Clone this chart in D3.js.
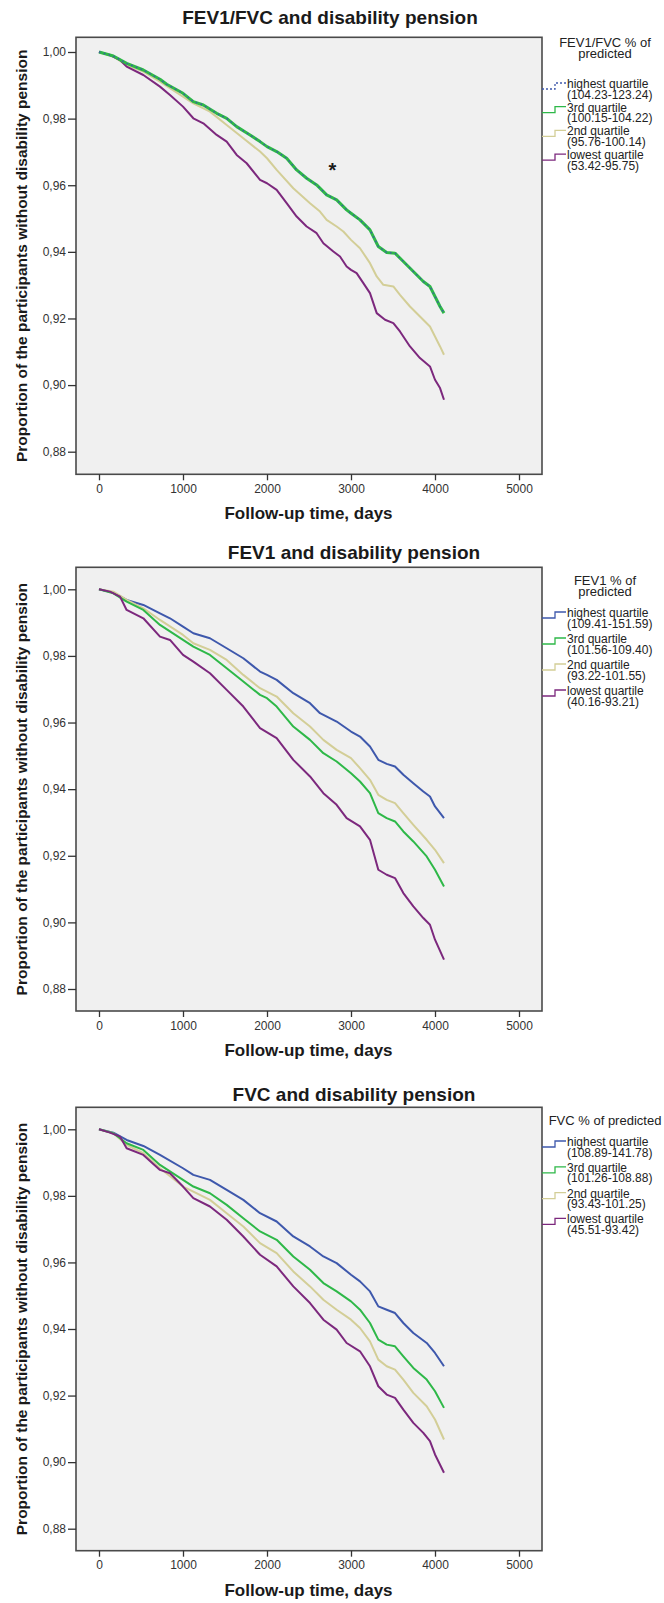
<!DOCTYPE html>
<html>
<head>
<meta charset="utf-8">
<script src="https://cdn.jsdelivr.net/npm/d3@7"></script>
<style>
  body { margin: 0; background: #fff; }
  svg  { display: block; font-family: Arial, "Liberation Sans", sans-serif; }
</style>
</head>
<body>
<div id="chart"></div>
<script>
// Kaplan-Meier curves: [follow-up day, proportion]
const X_TICKS = [0, 1000, 2000, 3000, 4000, 5000];
const Y_TICKS = [0.88, 0.90, 0.92, 0.94, 0.96, 0.98, 1.00];
const QUARTILES = ["highest quartile", "3rd quartile", "2nd quartile", "lowest quartile"];

// FEV1/FVC panel (highest and 3rd quartile lie on top of each other)
const RATIO_RANGES = ["(104.23-123.24)", "(100.15-104.22)", "(95.76-100.14)", "(53.42-95.75)"];
const RATIO_HIGH = [[0,1.000],[171,0.9988],[329,0.9966],[528,0.9946],[726,0.9918],[806,0.9903],[1000,0.9876],[1123,0.9851],[1242,0.9841],[1401,0.9816],[1520,0.9801],[1639,0.9776],[1798,0.9751],[1917,0.9731],[2000,0.9716],[2115,0.9701],[2234,0.9681],[2353,0.9646],[2472,0.9621],[2591,0.9601],[2710,0.9571],[2829,0.9556],[2948,0.9526],[3000,0.9516],[3107,0.9496],[3226,0.9466],[3325,0.9416],[3425,0.9398],[3524,0.9396],[3623,0.9371],[3742,0.9341],[3861,0.9311],[3940,0.9296],[4000,0.9266],[4060,0.9236],[4107,0.9216]];
const RATIO_Q3 = [[0,1.000],[171,0.9988],[329,0.9966],[528,0.9946],[726,0.9918],[806,0.9903],[1000,0.9876],[1123,0.9851],[1242,0.9841],[1401,0.9816],[1520,0.9801],[1639,0.9776],[1798,0.9751],[1917,0.9731],[2000,0.9716],[2115,0.9701],[2234,0.9681],[2353,0.9646],[2472,0.9621],[2591,0.9601],[2710,0.9571],[2829,0.9556],[2948,0.9526],[3000,0.9516],[3107,0.9496],[3226,0.9466],[3325,0.9416],[3425,0.9398],[3524,0.9396],[3623,0.9371],[3742,0.9341],[3861,0.9311],[3940,0.9296],[4000,0.9266],[4060,0.9236],[4107,0.9216]];
const RATIO_Q2 = [[0,1.000],[171,0.9986],[329,0.9961],[528,0.9941],[726,0.9911],[1000,0.9866],[1123,0.9846],[1321,0.9821],[1520,0.9781],[1718,0.9741],[1917,0.9701],[2000,0.9681],[2115,0.9646],[2313,0.9591],[2512,0.9546],[2631,0.9521],[2710,0.9496],[2829,0.9476],[2909,0.9461],[3000,0.9436],[3107,0.9411],[3226,0.9366],[3306,0.9326],[3385,0.9301],[3504,0.9296],[3583,0.9271],[3702,0.9236],[3821,0.9206],[3940,0.9176],[4000,0.9146],[4060,0.9116],[4107,0.9091]];
const RATIO_LOW = [[0,1.000],[131,0.9991],[250,0.9976],[329,0.9956],[528,0.9931],[726,0.9896],[845,0.9871],[1000,0.9836],[1123,0.9801],[1242,0.9786],[1401,0.9751],[1520,0.9731],[1639,0.9691],[1758,0.9666],[1917,0.9616],[2000,0.9606],[2115,0.9586],[2234,0.9546],[2353,0.9506],[2472,0.9476],[2591,0.9456],[2671,0.9426],[2790,0.9401],[2869,0.9386],[2948,0.9356],[3000,0.9346],[3067,0.9336],[3147,0.9306],[3226,0.9276],[3306,0.9216],[3405,0.9196],[3504,0.9186],[3583,0.9161],[3702,0.9116],[3821,0.9081],[3940,0.9056],[4000,0.9016],[4060,0.8991],[4107,0.8956]];

// FEV1 panel
const FEV1_RANGES = ["(109.41-151.59)", "(101.56-109.40)", "(93.22-101.55)", "(40.16-93.21)"];
const FEV1_HIGH = [[0,1.000],[171,0.9990],[329,0.9968],[528,0.9953],[726,0.9928],[845,0.9913],[1000,0.9888],[1123,0.9868],[1321,0.9853],[1520,0.9823],[1718,0.9793],[1917,0.9753],[2000,0.9743],[2115,0.9728],[2313,0.9688],[2512,0.9658],[2631,0.9628],[2829,0.9603],[3000,0.9573],[3107,0.9558],[3226,0.9528],[3325,0.9488],[3425,0.9476],[3524,0.9468],[3623,0.9443],[3742,0.9418],[3861,0.9393],[3940,0.9378],[4000,0.9348],[4107,0.9313]];
const FEV1_Q3 = [[0,1.000],[171,0.9988],[329,0.9963],[528,0.9938],[726,0.9893],[1000,0.9848],[1123,0.9828],[1321,0.9803],[1520,0.9763],[1718,0.9723],[1917,0.9683],[2000,0.9673],[2115,0.9648],[2313,0.9588],[2512,0.9548],[2671,0.9508],[2829,0.9483],[3000,0.9448],[3107,0.9423],[3226,0.9388],[3325,0.9328],[3425,0.9313],[3524,0.9303],[3623,0.9273],[3742,0.9243],[3901,0.9198],[4000,0.9158],[4107,0.9108]];
const FEV1_Q2 = [[0,1.000],[171,0.9993],[329,0.9968],[528,0.9943],[726,0.9908],[1000,0.9863],[1123,0.9838],[1321,0.9818],[1520,0.9788],[1718,0.9743],[1917,0.9703],[2115,0.9678],[2313,0.9628],[2512,0.9588],[2671,0.9548],[2829,0.9518],[3000,0.9493],[3107,0.9463],[3226,0.9428],[3325,0.9383],[3425,0.9368],[3524,0.9358],[3623,0.9328],[3742,0.9293],[3901,0.9248],[4000,0.9218],[4107,0.9178]];
const FEV1_LOW = [[0,1.000],[131,0.9993],[250,0.9978],[329,0.9938],[528,0.9913],[726,0.9858],[845,0.9848],[1000,0.9803],[1123,0.9783],[1321,0.9748],[1520,0.9698],[1718,0.9648],[1917,0.9583],[2115,0.9553],[2313,0.9488],[2512,0.9438],[2671,0.9388],[2829,0.9353],[2948,0.9313],[3107,0.9288],[3226,0.9248],[3325,0.9158],[3425,0.9143],[3524,0.9133],[3623,0.9088],[3742,0.9048],[3861,0.9013],[3940,0.8993],[4000,0.8948],[4107,0.8888]];

// FVC panel
const FVC_RANGES = ["(108.89-141.78)", "(101.26-108.88)", "(93.43-101.25)", "(45.51-93.42)"];
const FVC_HIGH = [[0,1.000],[171,0.9990],[329,0.9968],[528,0.9950],[726,0.9923],[1000,0.9883],[1123,0.9863],[1321,0.9848],[1520,0.9818],[1718,0.9788],[1917,0.9748],[2115,0.9723],[2313,0.9678],[2512,0.9648],[2671,0.9618],[2829,0.9598],[3000,0.9563],[3107,0.9543],[3226,0.9513],[3325,0.9468],[3425,0.9458],[3524,0.9448],[3623,0.9418],[3742,0.9388],[3901,0.9358],[4000,0.9328],[4107,0.9288]];
const FVC_Q3 = [[0,1.000],[171,0.9988],[329,0.9958],[528,0.9938],[726,0.9893],[1000,0.9848],[1123,0.9828],[1321,0.9808],[1520,0.9773],[1718,0.9733],[1917,0.9693],[2115,0.9668],[2313,0.9618],[2512,0.9578],[2671,0.9538],[2829,0.9513],[3000,0.9483],[3107,0.9458],[3226,0.9418],[3325,0.9368],[3425,0.9353],[3524,0.9348],[3623,0.9318],[3742,0.9283],[3901,0.9248],[4000,0.9213],[4107,0.9163]];
const FVC_Q2 = [[0,1.000],[171,0.9988],[329,0.9953],[528,0.9928],[726,0.9883],[1000,0.9828],[1123,0.9813],[1321,0.9788],[1520,0.9748],[1718,0.9708],[1917,0.9658],[2115,0.9628],[2313,0.9573],[2512,0.9528],[2671,0.9488],[2829,0.9458],[3000,0.9428],[3107,0.9403],[3226,0.9363],[3325,0.9308],[3425,0.9288],[3524,0.9278],[3623,0.9248],[3742,0.9208],[3901,0.9168],[4000,0.9128],[4107,0.9068]];
const FVC_LOW = [[0,1.000],[131,0.9990],[250,0.9978],[329,0.9943],[528,0.9923],[726,0.9878],[845,0.9868],[1000,0.9828],[1123,0.9793],[1321,0.9768],[1520,0.9728],[1718,0.9678],[1917,0.9623],[2115,0.9588],[2313,0.9528],[2512,0.9478],[2671,0.9428],[2829,0.9398],[2948,0.9358],[3107,0.9333],[3226,0.9288],[3325,0.9228],[3425,0.9203],[3524,0.9193],[3623,0.9158],[3742,0.9118],[3861,0.9088],[3940,0.9063],[4000,0.9023],[4107,0.8968]];

(function () {
  const W = 664, H = 1603;
  const PLOT_L = 76, PLOT_R = 542;
  const COLOR = ["#3E58AC", "#2EB848", "#D3CE97", "#7C287D"];
  const INK = "#1a1a1a";

  const PANELS = [
    { title: "FEV1/FVC and disability pension", titleX: 330, titleY: 24,
      head: ["FEV1/FVC % of", "predicted"], headY: 47,
      ranges: RATIO_RANGES, series: [RATIO_HIGH, RATIO_Q3, RATIO_Q2, RATIO_LOW],
      top: 37.3, bottom: 474.3, y100: 52, y088: 451.7,
      itemY: 88, itemStep: 23.7, dashHigh: true, star: [2780, 0.9652] },
    { title: "FEV1 and disability pension", titleX: 354, titleY: 559,
      head: ["FEV1 % of", "predicted"], headY: 585,
      ranges: FEV1_RANGES, series: [FEV1_HIGH, FEV1_Q3, FEV1_Q2, FEV1_LOW],
      top: 567.3, bottom: 1011, y100: 589.3, y088: 989,
      itemY: 617, itemStep: 26 },
    { title: "FVC and disability pension", titleX: 354, titleY: 1101,
      head: ["FVC % of predicted"], headY: 1125,
      ranges: FVC_RANGES, series: [FVC_HIGH, FVC_Q3, FVC_Q2, FVC_LOW],
      top: 1107.3, bottom: 1550.7, y100: 1129.3, y088: 1528.7,
      itemY: 1146, itemStep: 25.8 }
  ];

  const comma = d3.formatLocale({ decimal: ",", thousands: ".", grouping: [3], currency: ["", ""] });
  const fmtY = comma.format(".2f");

  const svg = d3.select("#chart").append("svg")
    .attr("width", W).attr("height", H).attr("viewBox", `0 0 ${W} ${H}`);

  PANELS.forEach(p => {
    const g = svg.append("g");
    const x = d3.scaleLinear().domain([0, 5000]).range([99, 519]);
    const y = d3.scaleLinear().domain([0.88, 1.00]).range([p.y088, p.y100]);

    // plot background + frame
    g.append("rect")
      .attr("x", PLOT_L).attr("y", p.top)
      .attr("width", PLOT_R - PLOT_L).attr("height", p.bottom - p.top)
      .attr("fill", "#f0f0f0").attr("stroke", "#4a4a4a").attr("stroke-width", 1.6);

    // Axes
    const ya = g.append("g").attr("transform", `translate(${PLOT_L},0)`)
      .call(d3.axisLeft(y).tickValues(Y_TICKS).tickFormat(fmtY).tickSize(8).tickPadding(2));
    const xa = g.append("g").attr("transform", `translate(0,${p.bottom})`)
      .call(d3.axisBottom(x).tickValues(X_TICKS).tickFormat(d3.format("d")).tickSize(6).tickPadding(4));
    [ya, xa].forEach(a => {
      a.select(".domain").remove();
      a.selectAll(".tick line").attr("stroke", "#333").attr("stroke-width", 1.3);
      a.selectAll(".tick text").attr("fill", "#333").attr("font-size", "12px")
        .attr("font-family", "Arial, 'Liberation Sans', sans-serif");
    });

    // Curves
    const line = d3.line().x(d => x(d[0])).y(d => y(d[1]));
    const order = p.dashHigh ? [2, 3, 1, 0] : [0, 2, 1, 3];
    order.forEach(i => {
      const path = g.append("path").datum(p.series[i])
        .attr("d", line).attr("fill", "none")
        .attr("stroke", COLOR[i]).attr("stroke-width", 2)
        .attr("stroke-linejoin", "round");
      if (p.dashHigh && i === 1) path.attr("stroke-width", 3);
      if (p.dashHigh && i === 0) path.attr("stroke-width", 1.4).attr("stroke-dasharray", "1.5,3.5");
    });

    if (p.star) {
      g.append("text").attr("x", x(p.star[0])).attr("y", y(p.star[1]) + 9)
        .attr("text-anchor", "middle").attr("font-size", "20px").attr("font-weight", "bold")
        .attr("fill", INK).text("*");
    }

    // Titles
    g.append("text").attr("x", p.titleX).attr("y", p.titleY)
      .attr("text-anchor", "middle").attr("font-size", "19px").attr("font-weight", "bold")
      .attr("fill", INK).text(p.title);

    g.append("text").attr("x", 308.5).attr("y", p.bottom + 45)
      .attr("text-anchor", "middle").attr("font-size", "17px").attr("font-weight", "bold")
      .attr("fill", INK).text("Follow-up time, days");

    const cy = (p.top + p.bottom) / 2;
    g.append("text").attr("transform", `translate(27,${cy}) rotate(-90)`)
      .attr("text-anchor", "middle").attr("font-size", "15.5px").attr("font-weight", "bold")
      .attr("fill", INK).text("Proportion of the participants without disability pension");

    // Legend
    p.head.forEach((t, k) => {
      g.append("text").attr("x", 605).attr("y", p.headY + k * 11)
        .attr("text-anchor", "middle").attr("font-size", "13px")
        .attr("fill", "#222").text(t);
    });

    QUARTILES.forEach((q, i) => {
      const ly = p.itemY + i * p.itemStep;
      const sym = g.append("path")
        .attr("d", `M${PLOT_R},${ly + 1} H${PLOT_R + 13} V${ly - 5} H${PLOT_R + 24}`)
        .attr("fill", "none").attr("stroke", COLOR[i]).attr("stroke-width", 1.3);
      if (p.dashHigh && i === 0) sym.attr("stroke-dasharray", "2,2");
      g.append("text").attr("x", 567).attr("y", ly)
        .attr("font-size", "12px").attr("fill", "#222").text(q);
      g.append("text").attr("x", 567).attr("y", ly + 10.5)
        .attr("font-size", "12px").attr("fill", "#222").text(p.ranges[i]);
    });
  });
})();
</script>
</body>
</html>
